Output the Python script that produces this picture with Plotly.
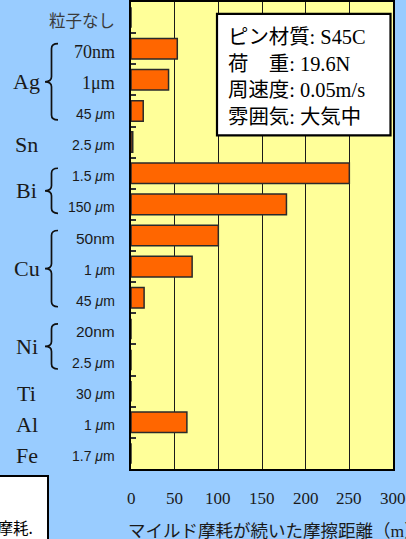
import plotly.graph_objects as go

# Rows from top to bottom: particle size of the added metal powder
size_labels = ["粒子なし", "70nm", "1μm", "45 <i>μ</i>m", "2.5 <i>μ</i>m",
               "1.5 <i>μ</i>m", "150 <i>μ</i>m", "50nm", "1 <i>μ</i>m", "45 <i>μ</i>m",
               "20nm", "2.5 <i>μ</i>m", "30 <i>μ</i>m", "1 <i>μ</i>m", "1.7 <i>μ</i>m"]
size_styles = ["cjk", "serif", "serif", "sans", "sans",
               "sans", "sans", "sans_nm", "sans", "sans",
               "sans_nm", "sans", "sans", "sans", "sans"]
row_keys = ["none", "Ag-70nm", "Ag-1um", "Ag-45um", "Sn-2.5um",
            "Bi-1.5um", "Bi-150um", "Cu-50nm", "Cu-1um", "Cu-45um",
            "Ni-20nm", "Ni-2.5um", "Ti-30um", "Al-1um", "Fe-1.7um"]
# Sliding distance over which mild wear continued (m)
mild_wear_distance = [0, 53, 43, 14, 2, 250, 178, 100, 70, 15, 0, 0, 0, 64, 0]

# Element groups: (name, first row, last row)
elements = [("Ag", 1, 3), ("Sn", 4, 4), ("Bi", 5, 6), ("Cu", 7, 9),
            ("Ni", 10, 11), ("Ti", 12, 12), ("Al", 13, 13), ("Fe", 14, 14)]

x_ticks = [0, 50, 100, 150, 200, 250, 300]

conditions = [("ピン材質", "S45C"), ("荷　重", "19.6N"),
              ("周速度", "0.05m/s"), ("雰囲気", "大気中")]

W, H = 406, 539
L, R, T, B = 131, 393, 0, 469
N = len(row_keys)

def px(x):
    return (x - L) / (R - L)

def py(y):
    return (B - y) / (B - T)

def row_center(i):
    return T + (i + 0.5) * (B - T) / N

CJK = "Noto Sans CJK JP"
SERIF = "Liberation Serif"
SANS = "Liberation Sans"
TXT = "#1a1a1a"

def cjk(s):
    return f"<span style='font-family:{CJK}'>{s}</span>"

fig = go.Figure(go.Bar(
    x=mild_wear_distance, y=row_keys, orientation="h",
    marker=dict(color="#FF6600", line=dict(color="#2a2a2a", width=1.5)),
    hoverinfo="x",
))

fig.update_layout(
    width=W, height=H,
    margin=dict(l=L, r=W - R, t=T, b=H - B, pad=0),
    paper_bgcolor="#99CCFF", plot_bgcolor="#FFFF99",
    bargap=0.34, showlegend=False,
    xaxis=dict(range=[0, 300], tickvals=x_ticks, ticks="", showgrid=True,
               gridcolor="#1a1a1a", gridwidth=1.4, zeroline=False,
               showline=True, linecolor="#000", linewidth=2, mirror=True,
               showticklabels=False, fixedrange=True),
    yaxis=dict(type="category", categoryorder="array", categoryarray=row_keys,
               autorange="reversed", showticklabels=False, tickson="boundaries",
               ticks="inside", ticklen=5, tickwidth=1.5, tickcolor="#333",
               showgrid=False, zeroline=False, showline=True, linecolor="#000",
               linewidth=2, mirror=True, fixedrange=True),
)

ann = []
shapes = []

# X tick labels, placed on the x data axis
for v in x_ticks:
    ann.append(dict(text=str(v), xref="x", yref="paper", x=v, y=py(499),
                    xanchor="center", yanchor="middle", showarrow=False,
                    font=dict(family=SERIF, size=17, color=TXT)))

# Particle size labels
for i, (txt, sty) in enumerate(zip(size_labels, size_styles)):
    if sty == "cjk":
        f = dict(family=CJK, size=16.5, color="#3a3a3a")
        dy = 2.5
    elif sty == "serif":
        f = dict(family=SERIF, size=18, color=TXT)
        dy = 3
    elif sty == "sans_nm":
        f = dict(family=SANS, size=15.5, color=TXT)
        dy = 3
    else:
        f = dict(family=SANS, size=14, color=TXT)
        dy = 3
    ann.append(dict(text=txt, xref="paper", yref="paper", x=px(116.5),
                    y=py(row_center(i) + dy), xanchor="right", yanchor="middle",
                    showarrow=False, font=f))

# Element labels and braces
for name, r0, r1 in elements:
    yc = (row_center(r0) + row_center(r1)) / 2
    ann.append(dict(text=name, xref="paper", yref="paper", x=px(26.5),
                    y=py(yc + 2), xanchor="center", yanchor="middle",
                    showarrow=False, font=dict(family=SERIF, size=22, color=TXT)))
    if r1 > r0:
        y0 = row_center(r0) - 5
        y1 = row_center(r1) + 9
        ym = (y0 + y1) / 2
        xr, xm, xl, d = 58, 51.5, 45, 5
        pts = [
            f"M{px(xr)},{py(y0)}",
            f"Q{px(xm)},{py(y0)} {px(xm)},{py(y0 + d)}",
            f"L{px(xm)},{py(ym - d)}",
            f"Q{px(xm)},{py(ym)} {px(xl)},{py(ym)}",
            f"Q{px(xm)},{py(ym)} {px(xm)},{py(ym + d)}",
            f"L{px(xm)},{py(y1 - d)}",
            f"Q{px(xm)},{py(y1)} {px(xr)},{py(y1)}",
        ]
        shapes.append(dict(type="path", xref="paper", yref="paper",
                           path=" ".join(pts), line=dict(color="#111", width=1.7)))

# Test conditions box
shapes.append(dict(type="rect", xref="paper", yref="paper",
                   x0=px(217), x1=px(390.5), y0=py(134), y1=py(12),
                   fillcolor="white", line=dict(color="#000", width=2.2)))
lines = []
for jp, val in conditions:
    val_txt = cjk(val) if val == "大気中" else val
    lines.append(f"{cjk(jp)}: {val_txt}")
ann.append(dict(text="<br>".join(lines), xref="paper", yref="paper",
                x=px(225.5), y=py(73.5), xanchor="left", yanchor="middle",
                align="left", showarrow=False,
                font=dict(family=SERIF, size=20.4, color="#000")))

# X-axis title
ann.append(dict(text=f"マイルド摩耗が続いた摩擦距離（<span style='font-family:{SERIF}'>m</span>）",
                xref="paper", yref="paper", x=px(126), y=py(530),
                xanchor="left", yanchor="middle", showarrow=False,
                font=dict(family=CJK, size=17.5, color=TXT)))

# Note box at lower left
shapes.append(dict(type="rect", xref="paper", yref="paper",
                   x0=px(-20), x1=px(48), y0=py(560), y1=py(476),
                   fillcolor="white", line=dict(color="#000", width=2)))
ann.append(dict(text="い摩耗.", xref="paper", yref="paper", x=px(35),
                y=py(527), xanchor="right", yanchor="middle", showarrow=False,
                font=dict(family=CJK, size=15.5, color="#000")))

fig.update_layout(annotations=ann, shapes=shapes)
fig.write_html("out.html")
